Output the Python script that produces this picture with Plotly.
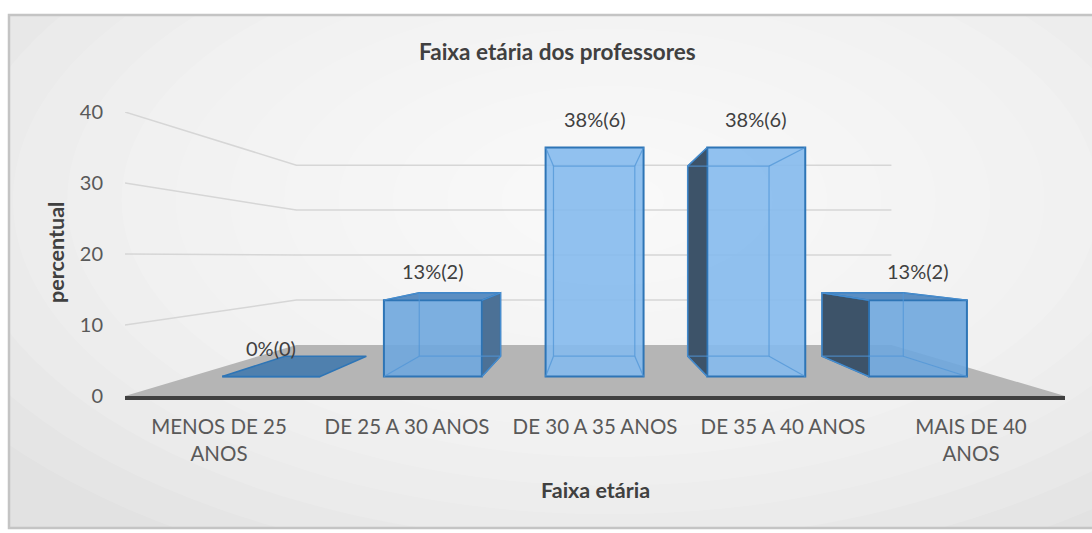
import plotly.graph_objects as go

# ---------------- data ----------------
categories = ["MENOS DE 25 ANOS", "DE 25 A 30 ANOS", "DE 30 A 35 ANOS",
              "DE 35 A 40 ANOS", "MAIS DE 40 ANOS"]
tick_text = ["MENOS DE 25<br>ANOS", "DE 25 A 30 ANOS", "DE 30 A 35 ANOS",
             "DE 35 A 40 ANOS", "MAIS DE 40<br>ANOS"]
percent = [0, 12.5, 37.5, 37.5, 12.5]
counts = [0, 2, 6, 6, 2]
y_ticks = [0, 10, 20, 30, 40]
title_text = "Faixa etária dos professores"
x_title = "Faixa etária"
y_title = "percentual"

# ---------------- geometry / style ----------------
W, H = 1092, 533
PX_X0, PX_X1 = 125, 1065      # plot area (front floor edge)
PX_Y0, PX_Y1 = 396, 112       # y=0 and y=40 pixel rows
XV, VV = 1.984, 19.6          # vanishing point in data units
S_FRONT, S_BACK, S_FLOOR = 0.86, 0.714, 0.633
HALF_W = 0.303
FONT = "Lato, Carlito, Calibri, sans-serif"
TXT = "#404040"
TICK = "#595959"

LOW_RGB, HIGH_RGB = (100, 158, 215), (135, 188, 238)   # front-face shade range
EDGE_COL = "#2e75b6"
HIDDEN_COL = "rgba(80,150,215,0.75)"
TOP_COL = "#5b8ec2"
SIDE_LEFT_COL = "#3d5369"
SIDE_RIGHT_COL = "#4c7196"
PLATE_COL = "#4f80ae"


def proj(X, V, s):
    return (XV + s * (X - XV), VV + s * (V - VV))


def poly(points):
    xs = [p[0] for p in points] + [points[0][0]]
    ys = [p[1] for p in points] + [points[0][1]]
    return xs, ys


def face_color(v):
    f = min(1.0, (v / 2) / 20)
    r, g, b = [round(lo + f * (hi - lo)) for lo, hi in zip(LOW_RGB, HIGH_RGB)]
    return f"rgba({r},{g},{b},0.9)"


fig = go.Figure()

# floor (base subplot)
floor = [proj(-0.5, 0, 1), proj(4.5, 0, 1), proj(4.5, 0, S_FLOOR), proj(-0.5, 0, S_FLOOR)]
fx, fy = poly(floor)
fig.add_trace(go.Scatter(x=fx, y=fy, mode="lines", fill="toself", fillcolor="#b5b5b5",
                         line=dict(width=0), hoverinfo="skip", xaxis="x", yaxis="y",
                         cliponaxis=False))

# wall gridlines (base subplot)
gx, gy = [], []
for t in y_ticks[1:]:
    for p in [proj(-0.5, t, 1), proj(-0.5, t, S_FLOOR), proj(4.5, t, S_FLOOR)]:
        gx.append(p[0]); gy.append(p[1])
    gx.append(None); gy.append(None)
fig.add_trace(go.Scatter(x=gx, y=gy, mode="lines", line=dict(color="#d6d6d6", width=1.5),
                         hoverinfo="skip", xaxis="x", yaxis="y", cliponaxis=False))

# front faces as bars (overlay subplot)
base_v = proj(0, 0, S_FRONT)[1]
fig.add_trace(go.Bar(
    x=[proj(i, 0, S_FRONT)[0] for i in range(len(percent))],
    y=[S_FRONT * p for p in percent],
    base=[base_v] * len(percent),
    width=[S_FRONT * 2 * HALF_W] * len(percent),
    marker=dict(color=[face_color(p) for p in percent], line=dict(color=EDGE_COL, width=2)),
    xaxis="x2", yaxis="y2", hoverinfo="skip"))

# depth faces
hx, hy = [], []
for i, v in enumerate(percent):
    xl, xr = i - HALF_W, i + HALF_W
    if xr < XV - 0.05:
        xs, col = xr, SIDE_RIGHT_COL
    elif xl > XV + 0.05:
        xs, col = xl, SIDE_LEFT_COL
    else:
        xs = None
    if xs is not None and v > 0:
        sx, sy = poly([proj(xs, 0, S_FRONT), proj(xs, v, S_FRONT),
                       proj(xs, v, S_BACK), proj(xs, 0, S_BACK)])
        fig.add_trace(go.Scatter(x=sx, y=sy, mode="lines", fill="toself", fillcolor=col,
                                 line=dict(color=EDGE_COL, width=1.5), hoverinfo="skip",
                                 xaxis="x2", yaxis="y2", cliponaxis=False))
    if v < VV:
        tx, ty = poly([proj(xl, v, S_FRONT), proj(xr, v, S_FRONT),
                       proj(xr, v, S_BACK), proj(xl, v, S_BACK)])
        fig.add_trace(go.Scatter(x=tx, y=ty, mode="lines", fill="toself",
                                 fillcolor=PLATE_COL if v == 0 else TOP_COL,
                                 line=dict(color=EDGE_COL, width=1.5), hoverinfo="skip",
                                 xaxis="x2", yaxis="y2", cliponaxis=False))
    if v > 0:
        back = [proj(xl, 0, S_BACK), proj(xr, 0, S_BACK), proj(xr, v, S_BACK), proj(xl, v, S_BACK)]
        front = [proj(xl, 0, S_FRONT), proj(xr, 0, S_FRONT), proj(xr, v, S_FRONT), proj(xl, v, S_FRONT)]
        bx, by = poly(back)
        hx += bx + [None]; hy += by + [None]
        for f, b in zip(front, back):
            hx += [f[0], b[0], None]; hy += [f[1], b[1], None]
fig.add_trace(go.Scatter(x=hx, y=hy, mode="lines", line=dict(color=HIDDEN_COL, width=1.2),
                         hoverinfo="skip", xaxis="x2", yaxis="y2", cliponaxis=False))

# data labels
annotations = []
for i, (p, c) in enumerate(zip(percent, counts)):
    cx, cy = proj(i, p, S_FRONT)
    annotations.append(dict(x=cx, y=cy, xref="x2", yref="y2", text=f"{int(p + 0.5)}%({c})",
                            showarrow=False, yshift=29, xanchor="center", yanchor="middle",
                            font=dict(family=FONT, size=20, color=TXT)))

annotations += [
    dict(x=557 / W, y=1 - 52 / H, xref="paper", yref="paper", text=f"<b>{title_text}</b>",
         showarrow=False, xanchor="center", yanchor="middle",
         font=dict(family=FONT, size=22.5, color=TXT)),
    dict(x=595 / W, y=1 - 490 / H, xref="paper", yref="paper", text=f"<b>{x_title}</b>",
         showarrow=False, xanchor="center", yanchor="middle",
         font=dict(family=FONT, size=21.5, color=TXT)),
    dict(x=56 / W, y=1 - 253 / H, xref="paper", yref="paper", text=f"<b>{y_title}</b>",
         textangle=-90, showarrow=False, xanchor="center", yanchor="middle",
         font=dict(family=FONT, size=21.5, color=TXT)),
]

# background panel shapes
shapes = [dict(type="rect", xref="paper", yref="paper", x0=9 / W, x1=1.01, y0=1 - 528 / H,
               y1=1 - 15 / H, fillcolor="#e2e2e2", line=dict(width=0), layer="below")]
n = 14
for k in range(n):
    f = 1 - k / n
    rx, ry = 760 * f, 400 * f
    cxp, cyp = 610, 200
    shapes.append(dict(type="circle", xref="paper", yref="paper",
                       x0=(cxp - rx) / W, x1=(cxp + rx) / W,
                       y0=1 - (cyp + ry) / H, y1=1 - (cyp - ry) / H,
                       fillcolor="white", opacity=0.13, line=dict(width=0), layer="below"))
shapes.append(dict(type="rect", xref="paper", yref="paper", x0=9 / W, x1=1.01, y0=1 - 528 / H,
                   y1=1 - 15 / H, fillcolor="rgba(0,0,0,0)",
                   line=dict(color="#c4c4c4", width=2.5), layer="below"))

xdom = [PX_X0 / W, PX_X1 / W]
ydom = [(H - PX_Y0) / H, (H - PX_Y1) / H]

fig.update_layout(
    width=W, height=H, autosize=False,
    margin=dict(l=0, r=0, t=0, b=0, pad=0, autoexpand=False),
    paper_bgcolor="white", plot_bgcolor="rgba(0,0,0,0)",
    showlegend=False, hovermode=False,
    font=dict(family=FONT, color=TICK),
    xaxis=dict(domain=xdom, range=[-0.5, 4.5], tickvals=list(range(len(categories))),
               ticktext=tick_text, showgrid=False, zeroline=False, showline=True,
               linecolor="#404040", linewidth=3.5, ticks="", ticklabelstandoff=10,
               automargin=False,
               tickfont=dict(family=FONT, size=20.5, color=TICK), fixedrange=True),
    yaxis=dict(domain=ydom, range=[0, 40], tickvals=y_ticks, showgrid=False, zeroline=False,
               showline=False, ticks="", ticklabelstandoff=21, automargin=False,
               tickfont=dict(family=FONT, size=20, color=TICK), fixedrange=True),
    xaxis2=dict(overlaying="x", range=[-0.5, 4.5], visible=False, fixedrange=True,
                automargin=False),
    yaxis2=dict(overlaying="y", range=[0, 40], visible=False, fixedrange=True,
                automargin=False),
    annotations=annotations, shapes=shapes,
)

fig.write_html("out.html", config={"displayModeBar": False},
               post_script="document.body.style.margin='0';document.body.style.overflow='hidden';")
